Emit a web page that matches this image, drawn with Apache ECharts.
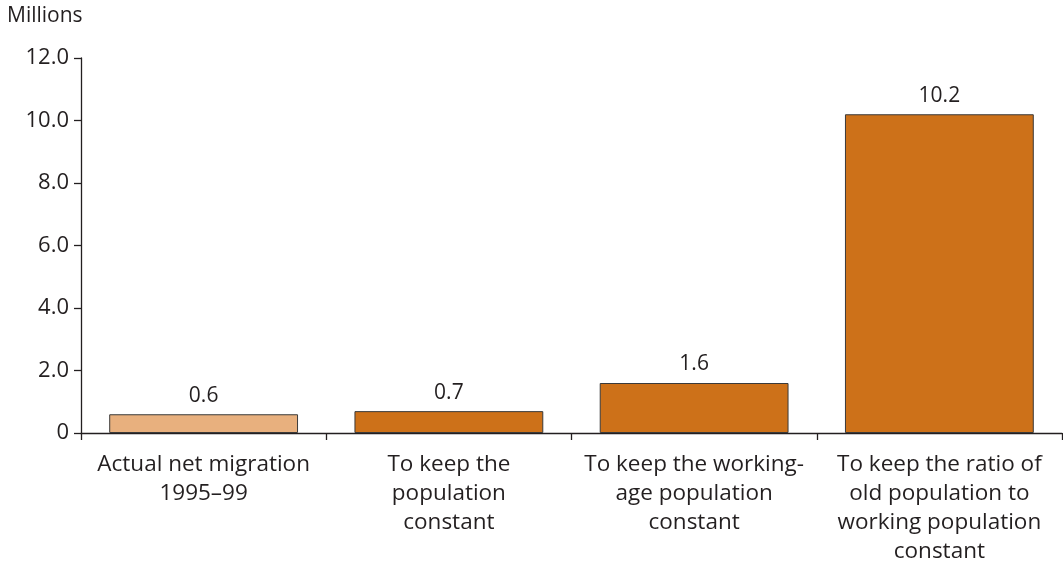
<!DOCTYPE html>
<html><head><meta charset="utf-8">
<script src="https://cdn.jsdelivr.net/npm/echarts@6/dist/echarts.min.js"></script>
<style>html,body{margin:0;padding:0;background:#fff}#c{width:1063px;height:566px}</style>
</head><body><div id="c"></div>
<script>
const categories = [
  "Actual net migration\n1995–99",
  "To keep the\npopulation\nconstant",
  "To keep the working-\nage population\nconstant",
  "To keep the ratio of\nold population to\nworking population\nconstant"
];
const values = [0.6, 0.7, 1.6, 10.2];
const barColors = ["#E8B07E", "#CD7119", "#CD7119", "#CD7119"];
const yTicks = [0, 2, 4, 6, 8, 10, 12];
const unitLabel = "Millions";

const font = "'Open Sans', 'Noto Sans', sans-serif";
const ink = "#231f20";
const chart = echarts.init(document.getElementById('c'), null, {renderer: 'canvas'});
chart.setOption({
  animation: false,
  textStyle: {fontFamily: font},
  graphic: [{type: 'text', left: 7, top: 6, style: {text: unitLabel, font: "21px " + font, fill: ink}}],
  grid: {left: 81, right: 1, top: 58, bottom: 131, containLabel: false},
  xAxis: {
    type: 'category', data: categories,
    axisLine: {lineStyle: {color: ink, width: 1.3}},
    axisTick: {show: true, alignWithLabel: false, length: 7, lineStyle: {color: ink, width: 1.3}},
    axisLabel: {color: ink, fontSize: 22.5, lineHeight: 29, margin: 17, interval: 0, fontFamily: font}
  },
  yAxis: {
    type: 'value', min: yTicks[0], max: yTicks[yTicks.length - 1], interval: 2,
    axisLine: {show: true, lineStyle: {color: ink, width: 1.3}},
    axisTick: {show: true, length: 7, lineStyle: {color: ink, width: 1.3}},
    splitLine: {show: false},
    axisLabel: {color: ink, fontSize: 22, margin: 12, fontFamily: font,
      formatter: v => v === 0 ? "0" : v.toFixed(1)}
  },
  series: [{
    type: 'bar', barWidth: '77%',
    data: values.map((v, i) => ({value: v, itemStyle: {color: barColors[i]}})),
    itemStyle: {borderColor: '#3a3a3a', borderWidth: 1},
    label: {show: true, position: 'top', distance: 8, color: ink, fontSize: 21, fontFamily: font,
      formatter: p => p.value.toFixed(1)}
  }]
});
</script></body></html>
